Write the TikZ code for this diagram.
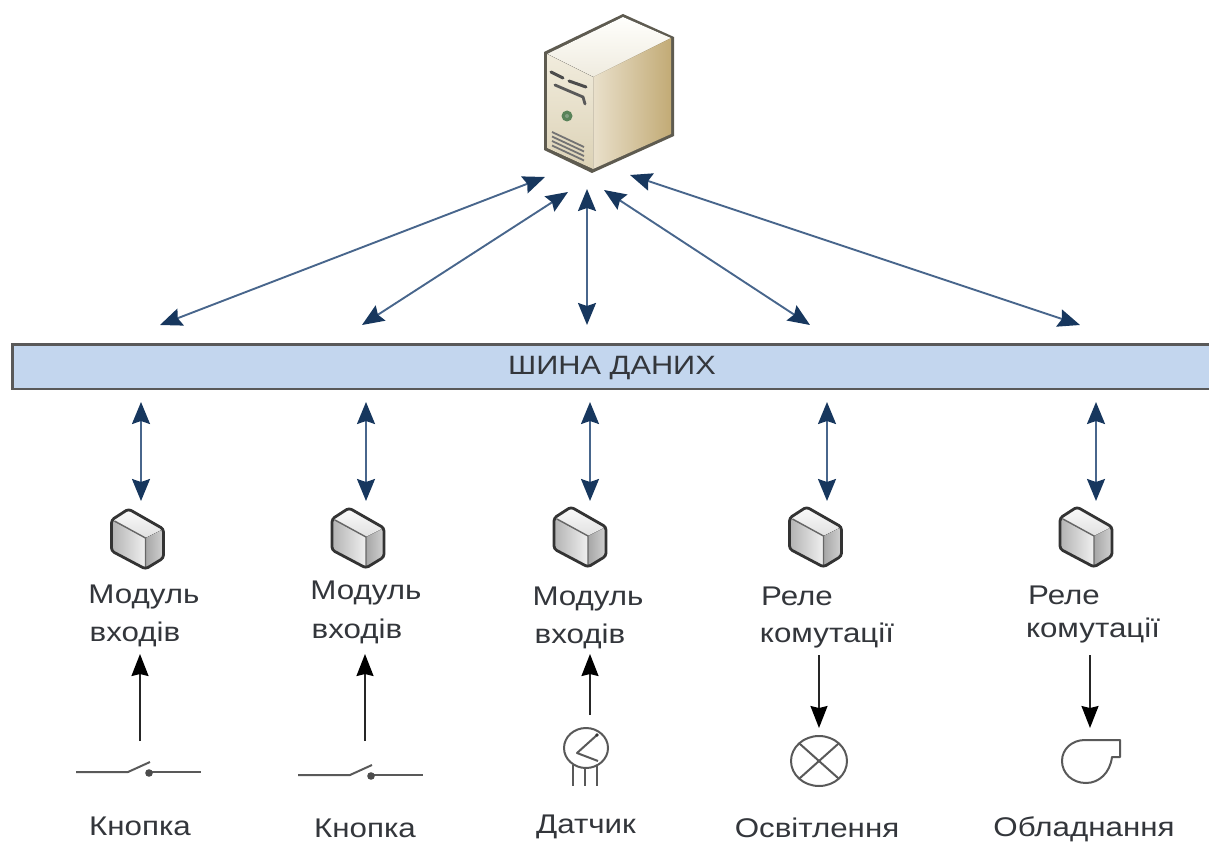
\documentclass[tikz,border=0pt]{standalone}
\usepackage{fontspec}
\setmainfont[FakeStretch=1.16]{Liberation Sans}
\usetikzlibrary{arrows.meta,calc}
\definecolor{navy}{HTML}{17375E}
\definecolor{shaft}{HTML}{48668C}
\definecolor{busfill}{HTML}{C3D6EE}
\definecolor{ink}{HTML}{33363B}
\definecolor{srvedge}{HTML}{5E5B50}
\definecolor{srvtopa}{HTML}{FFFFFC}
\definecolor{srvtopb}{HTML}{EFEBDF}
\definecolor{srvfronta}{HTML}{F1ECDD}
\definecolor{srvfrontb}{HTML}{DCD2B6}
\definecolor{srvsidea}{HTML}{E9E0CB}
\definecolor{srvsideb}{HTML}{C2AB76}
\tikzset{
  bi/.style={shaft,line width=1.9pt,{Stealth[length=22pt,width=18pt,inset=3pt,navy]}-{Stealth[length=22pt,width=18pt,inset=3pt,navy]}},
  sig/.style={black!85,line width=1.7pt,-{Stealth[length=22pt,width=17pt,inset=2pt,black]}},
  lab/.style={text=ink,font=\fontsize{27}{27}\selectfont,inner sep=0pt},
  sym/.style={black!65,line width=2pt},
  modicon/.pic={
    \fill[left color=black!30,right color=black!6] (-26,-19) -- (8,-1) -- (8,29) -- (-26,11) -- cycle;
    \fill[top color=black!2,bottom color=black!12] (-26,-19) -- (-9,-29) -- (26,-10) -- (8,-1) -- cycle;
    \fill[left color=black!35,right color=black!18] (8,-1) -- (26,-10) -- (26,19) -- (8,29) -- cycle;
    \draw[black!60,line width=1.4pt] (-23,-18) -- (8,-1) -- (8,28);
    \draw[black!80,line width=2.8pt,line join=round,rounded corners=3pt] (-26,-19) -- (-9,-30) -- (26,-10) -- (26,19) -- (8,30) -- (-26,12) -- cycle;
  },
  switchicon/.pic={
    \draw[sym] (-64,0) -- (-12,0) -- (10,-10);
    \draw[sym] (9,0) -- (61,0);
    \fill[black!70] (9,1) circle (3.8);
  }
}
\begin{document}
\begin{tikzpicture}[x=1pt,y=-1pt]
\useasboundingbox (0,0) rectangle (1209,842);
% server
\fill[srvedge] (623,14) -- (674,37) -- (674,136) -- (592,173) -- (544,150) -- (544,52) -- cycle;
\fill[top color=srvtopa,bottom color=srvtopb] (623,17) -- (671,38) -- (593,77) -- (547,54) -- cycle;
\shade[left color=srvsidea,right color=srvsideb] (593,77) -- (671,38) -- (671,134) -- (593,169) -- cycle;
\fill[top color=srvfronta,bottom color=srvfrontb] (547,54) -- (593,77) -- (593,169) -- (547,148) -- cycle;
\draw[black!70,line width=3pt,line cap=round] (551,72) -- (563,78);
\draw[black!70,line width=3pt,line cap=round] (569,81) -- (586,87);
\draw[black!65,line width=2.8pt,line cap=round,line join=round] (555,85) -- (583,97) -- (585,104);
\fill[black!45!green!30!gray] (567,116) circle (5.5);
\fill[white!55!green!25!gray] (567,116) circle (2);
\foreach \k in {0,1,2,3}
  \draw[black!55,line width=1.8pt] (552,{132+4.5*\k}) -- (584,{147+4.5*\k});
% free arrow ends
\coordinate (s1) at (545,177);
\coordinate (s2) at (568,192);
\coordinate (s3) at (587,189);
\coordinate (s4) at (604,190);
\coordinate (s5) at (630,175);
\coordinate (t1) at (160,325);
\coordinate (t2) at (362,325);
\coordinate (t3) at (587,325);
\coordinate (t4) at (810,325);
\coordinate (t5) at (1080,325);
\draw[bi] (s1) -- (t1);
\draw[bi] (s2) -- (t2);
\draw[bi] (s3) -- (t3);
\draw[bi] (s4) -- (t4);
\draw[bi] (s5) -- (t5);
% bus
\fill[busfill] (12,344) rectangle (1209,389);
\draw[black!65,line width=2.4pt] (1209,344.5) -- (12.5,344.5) -- (12.5,389) -- (1209,389);
\node[lab,font=\fontsize{26.5}{27}\selectfont] (bus) at (612,368) {ШИНА ДАНИХ};
% vertical arrows
\foreach \n/\x in {1/141,2/366,3/590,4/827,5/1096}{
  \coordinate (b\n) at (\x,402);
  \coordinate (c\n) at (\x,501);
  \draw[bi] (b\n) -- (c\n);
}
% module icons
\pic at (137.5,539) {modicon};
\pic at (358,538) {modicon};
\pic at (580,537) {modicon};
\pic at (815.5,537) {modicon};
\pic at (1086,537) {modicon};
% labels
\node[lab] (m1a) at (144,597) {Модуль};
\node[lab] (m1b) at (135,634) {входів};
\node[lab] (m2a) at (366,593) {Модуль};
\node[lab] (m2b) at (357,631) {входів};
\node[lab] (m3a) at (588,599) {Модуль};
\node[lab] (m3b) at (580,636) {входів};
\node[lab] (m4a) at (797,596) {Реле};
\node[lab] (m4b) at (827,636) {комутації};
\node[lab] (m5a) at (1064,595) {Реле};
\node[lab] (m5b) at (1093,631) {комутації};
\node[lab] (k1) at (140,826) {Кнопка};
\node[lab] (k2) at (365,828) {Кнопка};
\node[lab] (k3) at (586,827) {Датчик};
\node[lab] (k4) at (817,828) {Освітлення};
\node[lab] (k5) at (1084,829) {Обладнання};
% signal arrows
\coordinate (i1) at (140,741); \coordinate (o1) at (140,654);
\coordinate (i2) at (365,741); \coordinate (o2) at (365,654);
\coordinate (i3) at (590,715); \coordinate (o3) at (590,654);
\coordinate (i4) at (819,655); \coordinate (o4) at (819,728);
\coordinate (i5) at (1090,655); \coordinate (o5) at (1090,728);
\foreach \n in {1,...,5} \draw[sig] (i\n) -- (o\n);
% switches
\pic at (140,772) {switchicon};
\pic at (362,775) {switchicon};
% sensor
\draw[sym] (586,748) ellipse (22 and 20);
\draw[sym,line join=round] (597,735) -- (577,753) -- (598,761);
\fill[black!80] (597,735) circle (1.8);
\draw[sym] (573,765) -- (573,786) (585,768) -- (585,786) (597,765) -- (597,786);
% lamp
\draw[sym] (819,761) ellipse (28 and 25);
\draw[sym] (799.2,743.3) -- (838.8,778.7) (838.8,743.3) -- (799.2,778.7);
% fan
\draw[sym,line join=round] (1085,740) -- (1120,740) -- (1120,757) -- (1112,757)
  .. controls (1110,773) and (1099,783) .. (1086,783)
  .. controls (1072,783) and (1062,773) .. (1062,761)
  .. controls (1062,749) and (1072,740) .. (1085,740) -- cycle;
\end{tikzpicture}
\end{document}
